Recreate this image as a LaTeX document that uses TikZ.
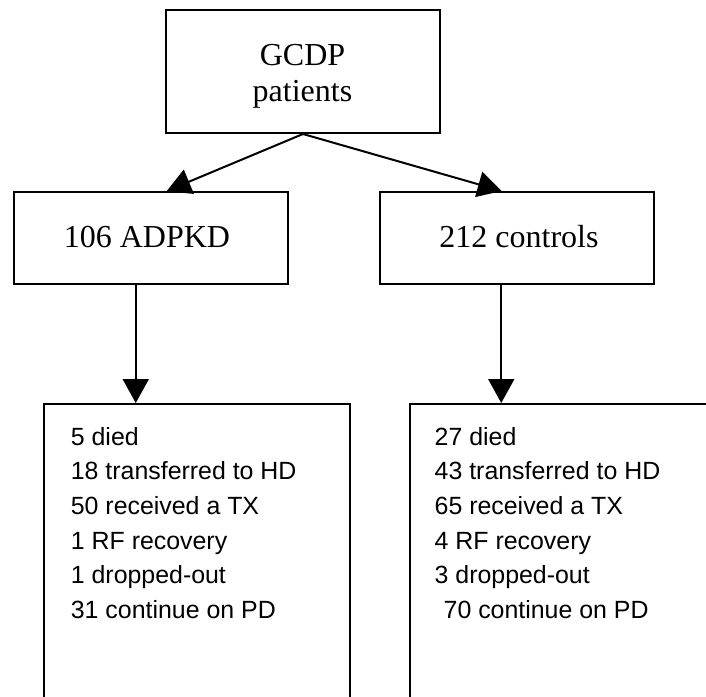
\documentclass[tikz,border=0pt]{standalone}
\usepackage{fontspec}
\setmainfont{Liberation Serif}
\newfontfamily\sansf{Liberation Sans}
\usetikzlibrary{arrows.meta}
\begin{document}
\begin{tikzpicture}[x=1pt,y=-1pt,
  box/.style={draw, line width=2pt, inner sep=0pt},
  arr/.style={line width=2pt, -{Triangle[width=26pt,length=24pt]}},
  serifbig/.style={font=\fontsize{32}{36}\selectfont, align=center, inner sep=0pt},
  listtext/.style={font=\sansf\fontsize{24.9}{34.6}\selectfont, align=left, inner sep=0pt, anchor=north west}]
\useasboundingbox (0,0) rectangle (706,696);
\clip (0,0) rectangle (706,696);
\node[box, minimum width=274pt, minimum height=123pt] (gcdp) at (303,71.5) {};
\node[serifbig] (gcdptext) at (302.5,76) {GCDP\\patients};
\node[box, minimum width=274.5pt, minimum height=92pt] (adpkd) at (150.75,238) {};
\node[serifbig] (adpkdtext) at (147,237) {106 ADPKD};
\node[box, minimum width=274.5pt, minimum height=92pt] (ctrl) at (516.75,238) {};
\node[serifbig] (ctrltext) at (519,237) {212 controls};
\node[box, minimum width=305.5pt, minimum height=301pt] (leftbox) at (196.75,554.5) {};
\node[box, minimum width=315pt, minimum height=301pt] (rightbox) at (567.5,554.5) {};
\node[listtext] (lefttext) at (70.7,427) {5 died\\18 transferred to HD\\50 received a TX\\1 RF recovery\\1 dropped-out\\31 continue on PD};
\node[listtext] (righttext) at (434.5,427) {27 died\\43 transferred to HD\\65 received a TX\\4 RF recovery\\3 dropped-out\\\hspace*{9pt}70 continue on PD};
\draw[arr] (gcdp.south) -- ([xshift=16pt]adpkd.north);
\draw[arr] (gcdp.south) -- ([xshift=-15pt]ctrl.north);
\draw[arr] ([xshift=-15pt]adpkd.south) -- ([xshift=-15pt]adpkd.south |- leftbox.north);
\draw[arr] ([xshift=-15.5pt]ctrl.south) -- ([xshift=-15.5pt]ctrl.south |- rightbox.north);
\end{tikzpicture}
\end{document}
